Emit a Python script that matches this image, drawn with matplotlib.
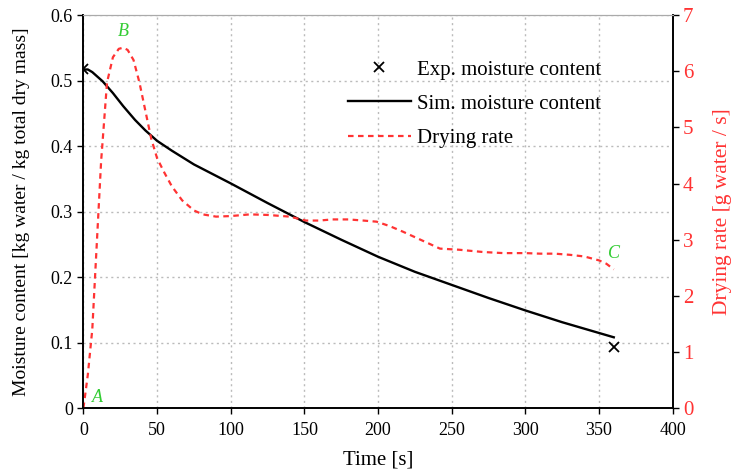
import matplotlib
matplotlib.use("Agg")
import matplotlib.pyplot as plt

plt.rcParams['font.family'] = ['Liberation Serif', 'DejaVu Serif']

# Simulated moisture content [kg water / kg total dry mass]
sim_t = [0, 3, 6, 10, 13, 20, 27, 35, 42, 47, 50, 60, 75, 100, 125, 150, 175,
         200, 225, 250, 275, 300, 325, 360]
sim_mc = [0.517, 0.517, 0.513, 0.505, 0.499, 0.481, 0.461, 0.440, 0.424, 0.414,
          0.408, 0.393, 0.372, 0.343, 0.313, 0.284, 0.257, 0.231, 0.208, 0.188,
          0.168, 0.149, 0.131, 0.108]

# Experimental moisture content
exp_t = [0, 360]
exp_mc = [0.517, 0.093]

# Drying rate [g water / s]
rate_t = [0, 3, 6, 9, 12, 16, 20, 24, 27, 30, 34, 38, 42, 46, 50, 55, 60, 67,
          75, 81, 90, 100, 113, 125, 140, 151, 160, 169, 180, 190, 199, 208,
          217, 227, 237, 242, 255, 271, 285, 300, 310, 320, 330, 340, 350, 355, 360]
rate = [0.0, 0.6, 1.4, 2.9, 4.4, 5.8, 6.25, 6.4, 6.42, 6.38, 6.2, 5.8, 5.3,
        4.8, 4.45, 4.19, 3.95, 3.70, 3.52, 3.45, 3.41, 3.42, 3.45, 3.44, 3.41,
        3.34, 3.34, 3.36, 3.36, 3.34, 3.32, 3.24, 3.14, 3.02, 2.90, 2.84, 2.82,
        2.78, 2.76, 2.76, 2.75, 2.75, 2.73, 2.70, 2.63, 2.57, 2.47]

RED = '#ff3333'
GREEN = '#33cc33'

fig = plt.figure(figsize=(7.32, 4.73), dpi=100)
ax = fig.add_axes([0.114, 0.1374, 0.805, 0.8306])
ax2 = ax.twinx()

ax.grid(True, color='#bbbbbb', linestyle=(0, (1.5, 2.5)), linewidth=1.0)
ax.set_axisbelow(True)

l_exp, = ax.plot(exp_t, exp_mc, linestyle='none', marker='x', color='black',
                 markersize=7, markeredgewidth=1.3, label='Exp. moisture content', zorder=5)
l_sim, = ax.plot(sim_t, sim_mc, color='black', linewidth=1.7, label='Sim. moisture content', zorder=4)
l_rate, = ax2.plot(rate_t, rate, color=RED, linestyle=(0, (2.5, 2)), linewidth=1.6,
                   label='Drying rate')

ax.set_xlim(0, 400)
ax.set_ylim(0, 0.6)
ax2.set_ylim(0, 7)
ax.set_xticks(range(0, 401, 50))
ax.set_yticks([0, 0.1, 0.2, 0.3, 0.4, 0.5, 0.6])
ax.set_yticklabels(['0', '0.1', '0.2', '0.3', '0.4', '0.5', '0.6'])
ax2.set_yticks(range(0, 8))

ax.set_xlabel('Time [s]', fontsize=15, labelpad=8)
ax.set_ylabel('Moisture content [kg water / kg total dry mass]', fontsize=14, labelpad=15)
ax2.set_ylabel('Drying rate [g water / s]', fontsize=15.5, color=RED, labelpad=14)

ax.tick_params(axis='both', labelsize=13, direction='out', length=4, width=1)
ax.tick_params(axis='x', pad=6)
ax2.tick_params(axis='y', labelsize=15, colors='black', labelcolor=RED, direction='out',
                length=4, width=1)

for a in (ax, ax2):
    a.spines['top'].set_color('#aaaaaa')
    a.spines['left'].set_linewidth(1.2)
    a.spines['bottom'].set_linewidth(1.2)
    a.spines['right'].set_linewidth(1.2)

ax2.text(6, 0.1, 'A', color=GREEN, fontsize=13, style='italic')
ax2.text(27, 6.63, 'B', color=GREEN, fontsize=13, style='italic', ha='center')
ax2.text(360, 2.67, 'C', color=GREEN, fontsize=13, style='italic', ha='center')

leg = ax.legend(handles=[l_exp, l_sim, l_rate], loc='upper left',
                bbox_to_anchor=(348 / 732, 1 - 60 / 473), bbox_transform=fig.transFigure,
                frameon=False, fontsize=15, handlelength=3.0, labelspacing=0.7,
                handletextpad=0.3, borderpad=0, borderaxespad=0)

fig.savefig('out.png', dpi=100)
